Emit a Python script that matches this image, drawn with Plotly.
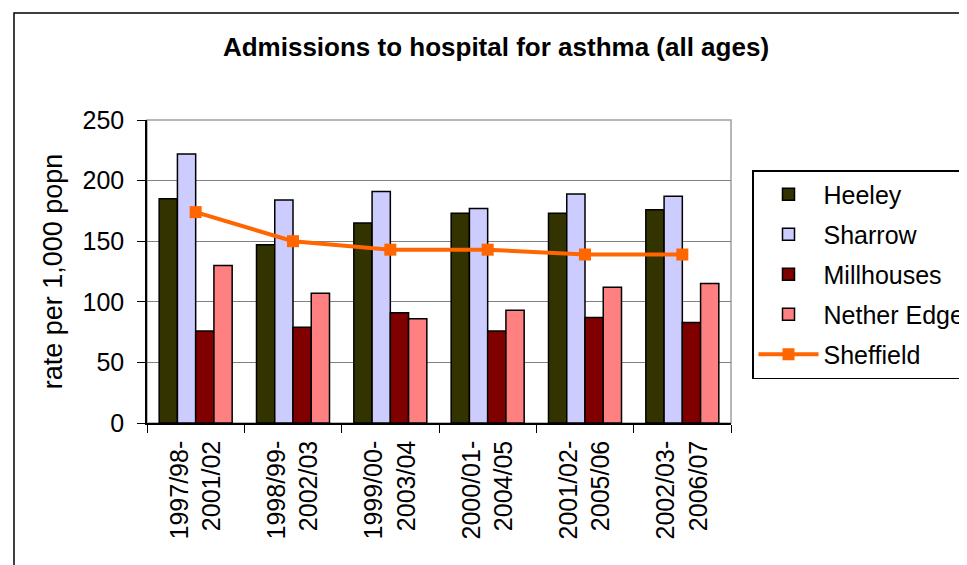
import plotly.graph_objects as go

categories = ["1997/98-<br>2001/02", "1998/99-<br>2002/03", "1999/00-<br>2003/04",
              "2000/01-<br>2004/05", "2001/02-<br>2005/06", "2002/03-<br>2006/07"]
heeley = [185, 147, 165, 173, 173, 176]
sharrow = [222, 184, 191, 177, 189, 187]
millhouses = [76, 79, 91, 76, 87, 83]
nether_edge = [130, 107, 86, 93, 112, 115]
sheffield = [174, 150, 143, 143, 139, 139]

FONT = "Liberation Sans, Arial, sans-serif"

fig = go.Figure()
bar_specs = [("Heeley", heeley, "#333300"), ("Sharrow", sharrow, "#CCCCFF"),
             ("Millhouses", millhouses, "#800000"), ("Nether Edge", nether_edge, "#FF8080")]
for name, vals, col in bar_specs:
    fig.add_trace(go.Bar(x=categories, y=vals, name=name, legendgroup=name,
                         marker=dict(color=col, line=dict(color="black", width=1.5))))
fig.add_trace(go.Scatter(x=categories, y=sheffield, name="Sheffield", legendgroup="Sheffield",
                         mode="lines+markers",
                         line=dict(color="#FF6600", width=4),
                         marker=dict(symbol="square", size=12, color="#FF6600")))

# page has an 8px body margin; work in page coords then subtract
OFF = 8
W, H = 967 - OFF, 565 - OFF
L, R, T, B = 147 - OFF, 731 - OFF, 120 - OFF, 423 - OFF
pw, ph = R - L, B - T
def px(x): return (x - OFF - L) / pw
def py(y): return (B - (y - OFF)) / ph

fig.update_layout(
    width=W, height=H,
    margin=dict(l=L, r=W - R, t=T, b=H - B, autoexpand=False),
    paper_bgcolor="white", plot_bgcolor="white",
    font=dict(family=FONT, size=25, color="black"),
    title=dict(text="<b>Admissions to hospital for asthma (all ages)</b>",
               x=px(496), xref="paper", xanchor="center",
               y=1 - (47 - OFF) / H, yanchor="middle", font=dict(size=26, family=FONT)),
    barmode="group", bargap=0.25, bargroupgap=0,
    showlegend=True,
    legend=dict(x=px(752), xanchor="left", y=py(170), yanchor="top",
                bordercolor="black", borderwidth=1.5, bgcolor="white",
                font=dict(size=25, family=FONT), tracegroupgap=4.5,
                traceorder="grouped", itemwidth=60),
    xaxis=dict(showline=True, linecolor="black", linewidth=1.5,
               ticks="outside", tickson="boundaries", ticklen=8, tickcolor="black",
               tickangle=-90, tickfont=dict(size=25), showgrid=False,
               ticklabelstandoff=6),
    yaxis=dict(range=[0, 250], dtick=50, showline=True, linecolor="black", linewidth=1.5,
               ticks="outside", ticklen=8, tickcolor="black",
               showgrid=True, gridcolor="#808080", gridwidth=1,
               title=dict(text="rate per 1,000 popn", font=dict(size=27), standoff=12),
               tickfont=dict(size=25), zeroline=False, ticklabelstandoff=8),
    shapes=[
        dict(type="rect", xref="paper", yref="paper", x0=0, x1=1, y0=0, y1=1,
             line=dict(color="#A0A0A0", width=1.5), layer="below"),
        dict(type="rect", xref="paper", yref="paper", x0=px(14), x1=px(1000),
             y0=py(600), y1=py(13), line=dict(color="black", width=1.5), layer="below"),
    ],
)

fig.write_html("out.html")
